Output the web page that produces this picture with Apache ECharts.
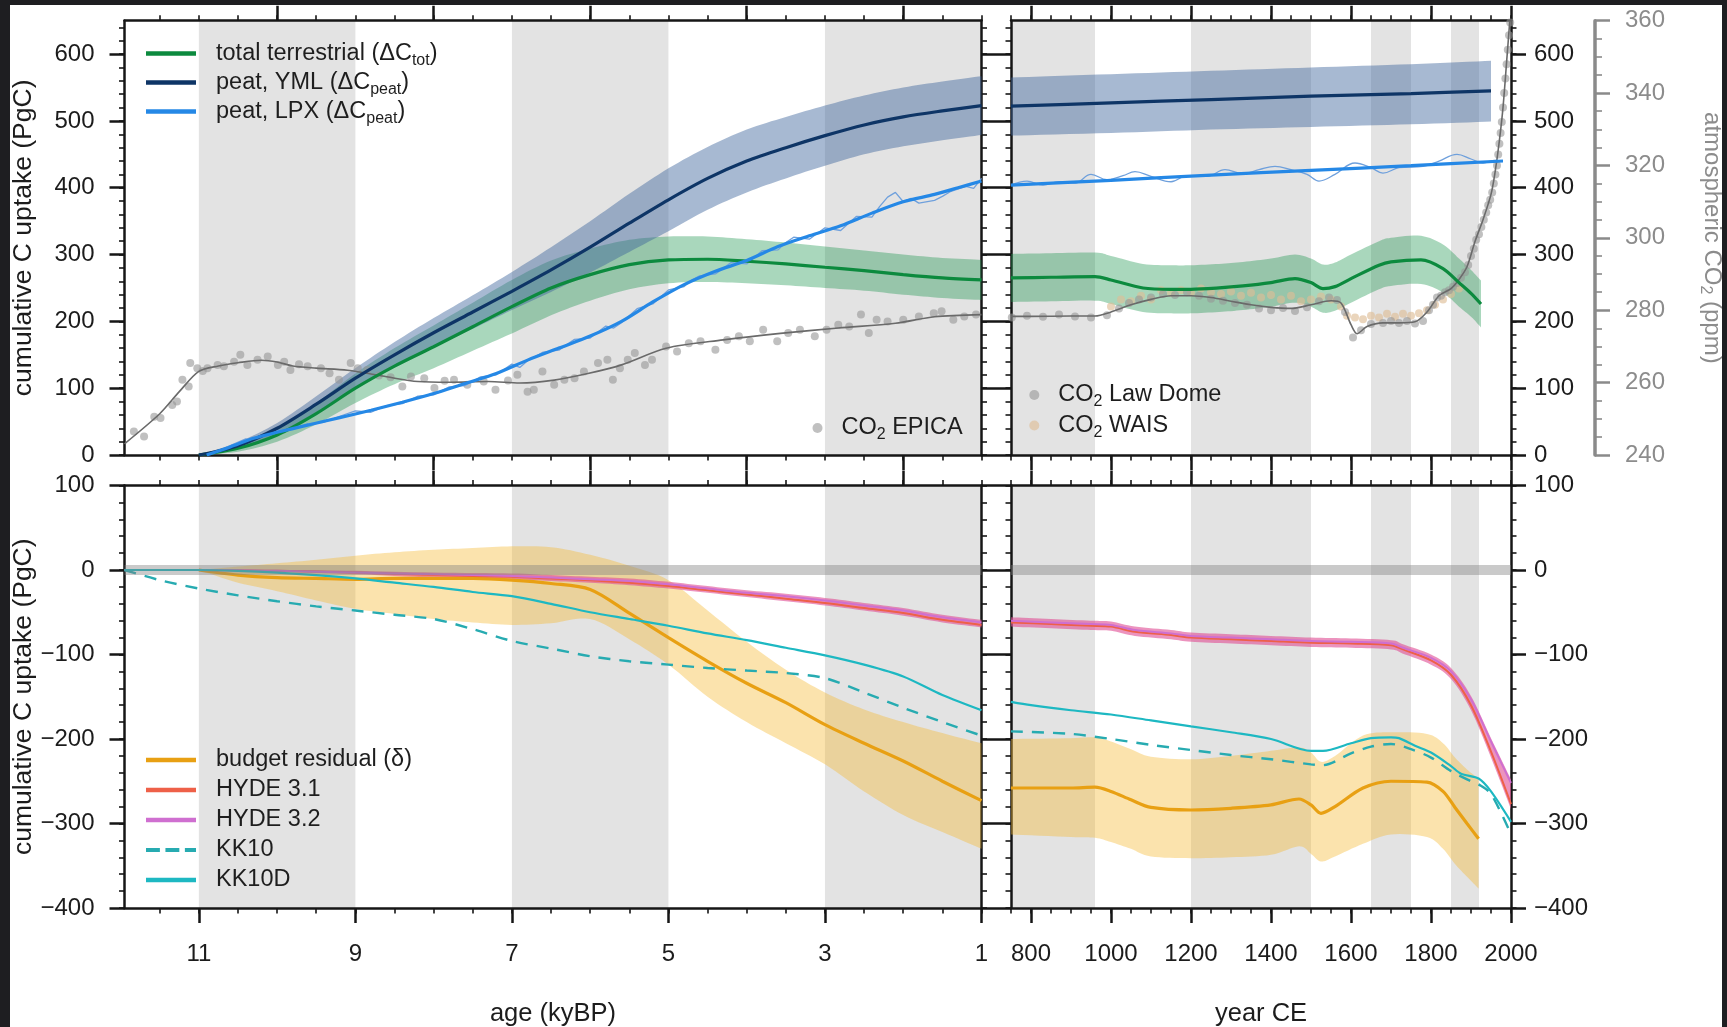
<!DOCTYPE html>
<html><head><meta charset="utf-8">
<script src="https://cdn.jsdelivr.net/npm/echarts@6/dist/echarts.min.js"></script>
<style>
html,body{margin:0;padding:0;background:#1e1e21;width:1727px;height:1027px;overflow:hidden}
#c{position:absolute;left:10px;top:5px;width:1712px;height:1022px;background:#fff}
</style></head><body><div id="c"></div>
<script>
// ---------------- DATA ----------------
const leftShade = [[11,9],[7,5],[3,1]];
const rightShade = [[750,960],[1200,1500],[1650,1750],[1850,1920]];

const AGE_ODD = [1,3,5,7,9,11];
const AGE_EVEN = [2,4,6,8,10];
const AGE_HALF = [1,1.5,2,2.5,3,3.5,4,4.5,5,5.5,6,6.5,7,7.5,8,8.5,9,9.5,10,10.5,11,11.5];
const YEAR_MAJOR = [800,1000,1200,1400,1600,1800,2000];
const YEAR_MINOR = [750,800,850,900,950,1000,1050,1100,1150,1200,1250,1300,1350,1400,1450,1500,1550,1600,1650,1700,1750,1800,1850,1900,1950,2000];
const PG_TOP_MAJOR = [0,100,200,300,400,500,600];
const PG_TOP_MINOR = [0,20,40,60,80,100,120,140,160,180,200,220,240,260,280,300,320,340,360,380,400,420,440,460,480,500,520,540,560,580,600,620,640];
const PG_BOT_MAJOR = [-400,-300,-200,-100,0,100];
const PG_BOT_MINOR = [-400,-380,-360,-340,-320,-300,-280,-260,-240,-220,-200,-180,-160,-140,-120,-100,-80,-60,-40,-20,0,20,40,60,80,100];

// top-left (age kyBP -> PgC)
const totLeft = [[11,0],[10.5,10],[10,30],[9.5,62],[9,100],[8.5,133],[8,162],[7.5,192],[7,222],[6.5,250],[6,270],[5.5,285],[5,292],[4.5,293],[4,290],[3.5,286],[3,281],[2.5,276],[2,270],[1.5,265],[1,262]];
const totLeftHi = [[11,0],[10.5,15],[10,40],[9.5,78],[9,122],[8.5,160],[8,194],[7.5,228],[7,262],[6.5,291],[6,309],[5.5,322],[5,327],[4.5,327],[4,323],[3.5,318],[3,312],[2.5,306],[2,300],[1.5,295],[1,292]];
const totLeftLo = [[11,0],[10.5,5],[10,20],[9.5,46],[9,78],[8.5,106],[8,130],[7.5,156],[7,182],[6.5,209],[6,231],[5.5,248],[5,257],[4.5,259],[4,257],[3.5,254],[3,250],[2.5,246],[2,240],[1.5,235],[1,232]];
const ymlLeft = [[11,0],[10.5,14],[10,40],[9.5,76],[9,115],[8.5,150],[8,183],[7.5,214],[7,245],[6.5,277],[6,311],[5.5,347],[5,382],[4.5,414],[4,440],[3.5,460],[3,478],[2.5,494],[2,506],[1.5,515],[1,523]];
const ymlLeftHi = [[11,0],[10.5,19],[10,48],[9.5,88],[9,130],[8.5,169],[8,205],[7.5,239],[7,274],[6.5,311],[6,350],[5.5,391],[5,429],[4.5,461],[4,487],[3.5,506],[3,523],[2.5,538],[2,550],[1.5,559],[1,567]];
const ymlLeftLo = [[11,0],[10.5,9],[10,32],[9.5,64],[9,100],[8.5,131],[8,161],[7.5,189],[7,217],[6.5,244],[6,273],[5.5,304],[5,335],[4.5,367],[4,393],[3.5,414],[3,433],[2.5,450],[2,462],[1.5,471],[1,479]];
const lpxLeft = [[10.9,0],[10.6,12],[10.3,25],[10,34],[9.6,45],[9.2,56],[8.8,67],[8.4,79],[8,92],[7.6,107],[7.2,122],[6.8,142],[6.4,160],[6,178],[5.6,200],[5.2,229],[4.8,255],[4.4,275],[4,291],[3.6,312],[3.2,328],[2.8,343],[2.4,362],[2,379],[1.6,390],[1.3,400],[1,410]];
const lpxRawLeft = [[10.8,4],[10.6,14],[10.4,24],[10.3,22],[10.2,29],[10,37],[9.8,38],[9.6,47],[9.4,49],[9.2,58],[9,66],[8.8,64],[8.6,74],[8.4,77],[8.2,88],[8,90],[7.8,102],[7.6,104],[7.4,117],[7.2,120],[7,136],[6.9,131],[6.8,141],[6.6,154],[6.4,157],[6.2,173],[6,175],[5.8,193],[5.7,190],[5.6,198],[5.4,219],[5.2,226],[5,247],[4.8,252],[4.7,262],[4.6,268],[4.4,271],[4.2,288],[4,286],[3.8,306],[3.6,307],[3.5,318],[3.4,326],[3.2,323],[3,340],[2.8,336],[2.6,357],[2.4,356],[2.3,372],[2.2,386],[2.1,393],[2,379],[1.9,384],[1.8,377],[1.6,381],[1.5,387],[1.4,394],[1.2,402],[1.1,399],[1,414]];
const epicaLine = [[11.95,243.1],[11.5,251.4],[11.25,257.5],[11,263.1],[10.75,264.6],[10.5,265.5],[10.2,266.2],[10,265.7],[9.8,264.6],[9.5,264.0],[9.1,263.4],[8.6,261.6],[8.2,260.3],[7.8,260.1],[7.3,260.3],[6.9,259.9],[6.46,260.7],[6.03,262.5],[5.6,264.9],[5.03,269.5],[4.3,271.8],[3.57,273.6],[2.83,275.1],[2.1,276.4],[1.6,278.2],[1.0,278.8]];
const epicaDots = [[11.83,246.5],[11.70,245.1],[11.57,250.6],[11.49,250.2],[11.34,253.8],[11.28,254.8],[11.21,260.8],[11.13,258.9],[11.11,265.4],[11.02,264.0],[10.95,263.2],[10.89,264.0],[10.76,264.9],[10.68,264.5],[10.55,265.8],[10.47,267.7],[10.38,264.9],[10.25,266.3],[10.12,267.2],[9.99,264.9],[9.91,265.8],[9.83,263.5],[9.72,265.1],[9.61,264.5],[9.44,264.0],[9.33,262.6],[9.21,260.8],[9.06,265.4],[8.97,264.0],[8.85,263.5],[8.70,262.0],[8.55,261.5],[8.40,258.9],[8.29,261.7],[8.12,261.2],[7.99,258.5],[7.86,260.5],[7.74,260.8],[7.57,259.4],[7.36,260.3],[7.21,258.0],[7.05,260.6],[6.93,262.2],[6.80,257.5],[6.72,258.0],[6.61,263.1],[6.46,259.4],[6.33,260.8],[6.20,261.2],[6.08,263.1],[5.90,265.4],[5.78,266.3],[5.71,260.8],[5.62,264.0],[5.52,266.3],[5.43,268.2],[5.30,264.9],[5.21,266.3],[5.03,270.0],[4.89,268.6],[4.74,270.9],[4.59,271.4],[4.40,269.1],[4.25,271.8],[4.10,272.8],[3.96,271.4],[3.79,274.6],[3.61,271.4],[3.47,273.7],[3.32,274.6],[3.13,272.8],[2.98,274.6],[2.83,276.0],[2.69,275.5],[2.54,278.8],[2.44,273.7],[2.34,277.4],[2.20,276.9],[2.00,277.4],[1.80,278.3],[1.61,279.2],[1.51,279.7],[1.36,277.4],[1.22,278.3],[1.07,278.8]];

// top-right (year CE -> PgC / ppm)
const ymlRight = [[750,522],[1000,527],[1250,532],[1500,537],[1750,541],[1950,545]];
const ymlRightHi = [[750,565],[1000,570],[1250,575],[1500,580],[1750,585],[1950,590]];
const ymlRightLo = [[750,478],[1000,482],[1250,487],[1500,491],[1750,495],[1950,499]];
const lpxRight = [[750,404],[1000,411],[1250,419],[1500,426],[1750,433],[1980,440]];
const lpxRawRight = [[750,404],[790,410],[830,404],[870,409],[910,407],[950,420],[990,412],[1030,418],[1060,424],[1100,417],[1150,409],[1190,418],[1240,417],[1285,427],[1330,421],[1370,427],[1410,432],[1450,427],[1490,420],[1520,410],[1560,420],[1610,437],[1650,430],[1680,422],[1720,430],[1780,432],[1820,440],[1865,450],[1900,443],[1930,437],[1960,441],[1980,440]];
const totRight = [[750,265],[850,266],[960,267],[1000,262],[1080,250],[1150,248],[1200,248],[1270,250],[1330,253],[1400,258],[1460,264],[1500,258],[1530,249],[1560,252],[1600,264],[1670,284],[1700,289],[1775,292],[1830,279],[1870,258],[1900,242],[1925,226]];
const totRightHi = [[750,301],[850,302],[960,303],[1000,298],[1080,286],[1150,284],[1200,284],[1270,286],[1330,289],[1400,294],[1460,300],[1500,294],[1530,285],[1560,288],[1600,300],[1670,320],[1700,325],[1775,328],[1830,315],[1870,294],[1900,277],[1925,261]];
const totRightLo = [[750,229],[850,230],[960,231],[1000,226],[1080,214],[1150,212],[1200,212],[1270,214],[1330,217],[1400,222],[1460,228],[1500,222],[1530,213],[1560,216],[1600,228],[1670,248],[1700,253],[1775,256],[1830,243],[1870,222],[1900,207],[1925,191]];
const lawLine = [[750,278.3],[800,278.3],[900,278.4],[960,278.4],[1000,279.5],[1050,281.5],[1100,283],[1150,284],[1200,284],[1250,283.5],[1300,282.5],[1350,281.5],[1400,280.8],[1450,280.5],[1500,281.5],[1550,282.6],[1575,282],[1600,276],[1615,273.5],[1640,275.5],[1680,276.5],[1720,276.5],[1760,276.8],[1790,279.5],[1820,284],[1850,286],[1870,288.5],[1890,292],[1910,299],[1930,305],[1950,312],[1960,318],[1970,326],[1980,336],[1990,350],[1997,360]];
const lawDots = [[752,278],[790,278.5],[830,278.2],[870,278.8],[910,278.3],[950,278],[990,278.6],[1020,280.5],[1045,282],[1070,283],[1100,283.5],[1130,284.5],[1160,284.2],[1190,285],[1220,284],[1250,283.2],[1280,282.6],[1310,282],[1340,281.5],[1370,280.5],[1400,280],[1430,280.6],[1460,279.8],[1490,280.8],[1520,282.5],[1545,283.5],[1565,282.8],[1585,279.5],[1605,272.5],[1625,274.5],[1650,276.2],[1680,276.5],[1700,277],[1720,276.5],[1740,277],[1760,276.3],[1780,277],[1795,280],[1805,281.5],[1815,283.5],[1825,284],[1835,285],[1845,285.5],[1855,286.5],[1865,287.5],[1875,289],[1885,290.5],[1893,292.5],[1900,295],[1907,297],[1913,299.5],[1920,301],[1926,303],[1932,305],[1938,307],[1943,309],[1948,310.5],[1953,312.5],[1957,315],[1961,317.5],[1965,320],[1968,323],[1971,326],[1974,329],[1977,332],[1980,336],[1983,340],[1986,344],[1989,348],[1992,352],[1995,356],[1998,359.5]];
const waisDots = [[1000,281],[1025,283],[1050,282.5],[1075,284],[1100,283],[1125,285.5],[1150,284.8],[1175,285.5],[1200,285],[1225,286],[1250,285],[1275,284.5],[1300,285.2],[1325,284],[1350,284.8],[1375,283.5],[1400,284.2],[1425,283],[1450,284],[1475,282.5],[1500,283],[1525,283.8],[1550,283],[1575,281],[1590,278.5],[1610,278],[1630,277.5],[1650,278.5],[1670,278],[1690,279],[1710,278.2],[1730,279],[1750,278.5],[1770,279.2],[1790,280],[1810,281.5],[1830,283],[1850,284.5],[1870,286]];

// bottom-left (age kyBP -> PgC)
const budgetLeft = [[11,0],[10.5,-6],[10,-9],[9.5,-10],[9,-11],[8.5,-10],[8,-10],[7.5,-10],[7,-12],[6.5,-16],[6,-23],[5.5,-51],[5,-80],[4.5,-108],[4,-134],[3.5,-157],[3,-183],[2.5,-205],[2,-226],[1.5,-250],[1,-273]];
const budgetLeftHi = [[11,0],[10.5,4],[10,8],[9.5,12],[9,17],[8.5,21],[8,24],[7.5,26],[7,28],[6.5,27],[6,18],[5.5,5],[5,-12],[4.5,-48],[4,-85],[3.5,-118],[3,-145],[2.5,-165],[2,-180],[1.5,-193],[1,-205]];
const budgetLeftLo = [[11,0],[10.5,-15],[10,-25],[9.5,-36],[9,-46],[8.5,-52],[8,-58],[7.5,-62],[7,-65],[6.5,-63],[6,-58],[5.5,-82],[5,-112],[4.5,-150],[4,-180],[3.5,-205],[3,-230],[2.5,-262],[2,-290],[1.5,-310],[1,-330]];
const hyde32Left = [[11.95,0],[11,0],[10,-1],[9,-3],[8,-5],[7,-7],[6.5,-9],[6,-11],[5.5,-13],[5,-17],[4.5,-22],[4,-27],[3.5,-31],[3,-36],[2.5,-42],[2,-48],[1.5,-56],[1,-62]];
const hyde31Left = [[11.95,0],[11,0],[10,-1],[9,-3],[8,-6],[7,-8],[6.5,-10],[6,-12],[5.5,-15],[5,-19],[4.5,-24],[4,-29],[3.5,-34],[3,-39],[2.5,-45],[2,-51],[1.5,-59],[1,-65]];
const hydeLeftHi = [[11.95,0],[11,0],[10,0],[9,-1],[8,-3],[7,-4],[6.5,-6],[6,-8],[5.5,-10],[5,-14],[4.5,-19],[4,-24],[3.5,-28],[3,-33],[2.5,-39],[2,-45],[1.5,-53],[1,-59]];
const hydeLeftLo = [[11.95,0],[11,0],[10,-2],[9,-5],[8,-9],[7,-11],[6.5,-13],[6,-15],[5.5,-18],[5,-22],[4.5,-27],[4,-32],[3.5,-37],[3,-42],[2.5,-48],[2,-54],[1.5,-62],[1,-68]];
const kk10Left = [[11.95,0],[11.5,-12],[11,-22],[10.5,-30],[10,-37],[9.5,-43],[9,-48],[8.5,-53],[8,-58],[7.5,-70],[7,-84],[6.5,-93],[6,-102],[5.5,-108],[5,-112],[4.5,-116],[4,-119],[3.5,-122],[3,-128],[2.5,-145],[2,-163],[1.5,-180],[1,-196]];
const kk10dLeft = [[11.95,0],[11,0],[10.5,-1],[10,-3],[9.5,-6],[9,-10],[8.5,-15],[8,-20],[7.5,-26],[7,-31],[6.5,-40],[6,-50],[5.5,-58],[5,-66],[4.5,-75],[4,-83],[3.5,-92],[3,-101],[2.5,-112],[2,-126],[1.5,-148],[1,-166]];

// bottom-right (year CE -> PgC)
const budgetRight = [[750,-258],[900,-258],[960,-257],[1000,-262],[1050,-272],[1100,-281],[1200,-284],[1300,-282],[1400,-278],[1470,-271],[1500,-278],[1525,-288],[1560,-280],[1630,-258],[1700,-250],[1790,-251],[1830,-262],[1860,-281],[1890,-300],[1919,-318]];
const budgetRightHi = [[750,-200],[900,-199],[960,-198],[1000,-203],[1050,-212],[1100,-221],[1200,-224],[1300,-220],[1400,-214],[1470,-210],[1500,-216],[1525,-227],[1560,-220],[1630,-196],[1700,-192],[1790,-194],[1830,-205],[1860,-222],[1890,-236],[1919,-247]];
const budgetRightLo = [[750,-313],[900,-316],[960,-317],[1000,-322],[1050,-330],[1100,-339],[1200,-341],[1300,-340],[1400,-337],[1470,-327],[1500,-336],[1525,-345],[1560,-339],[1630,-324],[1700,-313],[1790,-316],[1830,-330],[1860,-348],[1890,-363],[1919,-377]];
const hyde32Right = [[750,-60],[850,-62],[950,-64],[1000,-65],[1060,-71],[1150,-75],[1200,-78],[1300,-80],[1400,-82],[1500,-84],[1600,-85],[1700,-87],[1730,-92],[1800,-104],[1850,-120],[1900,-153],[1950,-203],[2000,-252]];
const hyde31Right = [[750,-62],[850,-64],[950,-66],[1000,-67],[1060,-73],[1150,-77],[1200,-80],[1300,-82],[1400,-84],[1500,-86],[1600,-87],[1700,-89],[1730,-94],[1800,-107],[1850,-124],[1900,-160],[1950,-215],[2000,-277]];
const hydeRightHi = [[750,-56],[850,-58],[950,-60],[1000,-61],[1060,-67],[1150,-71],[1200,-74],[1300,-76],[1400,-78],[1500,-80],[1600,-81],[1700,-83],[1730,-88],[1800,-100],[1850,-116],[1900,-149],[1950,-199],[2000,-248]];
const hydeRightLo = [[750,-67],[850,-69],[950,-71],[1000,-72],[1060,-78],[1150,-82],[1200,-85],[1300,-87],[1400,-89],[1500,-91],[1600,-92],[1700,-94],[1730,-99],[1800,-112],[1850,-129],[1900,-166],[1950,-222],[2000,-283]];
const kk10dRight = [[750,-156],[800,-160],[900,-166],[1000,-171],[1100,-178],[1200,-185],[1300,-192],[1400,-200],[1500,-214],[1530,-214],[1600,-205],[1650,-199],[1700,-198],[1720,-199],[1760,-208],[1800,-216],[1850,-232],[1875,-241],[1920,-247],[1950,-262],[2000,-298]];
const kk10Right = [[750,-191],[900,-194],[1000,-200],[1100,-207],[1200,-213],[1300,-219],[1400,-224],[1500,-230],[1530,-231],[1600,-217],[1650,-209],[1700,-206],[1750,-212],[1800,-222],[1850,-238],[1900,-250],[1920,-254],[1950,-265],[2000,-313]];

// ---------------- STYLE ----------------
const FONT = '"Liberation Sans", Arial, Helvetica, sans-serif';
const INK = '#161616';
const GRAYAX = '#8a8a8a';
const C = {
  green:'#0c8a3e', greenBand:'rgba(30,150,80,0.38)',
  navy:'#0e3566', navyBand:'rgba(60,100,155,0.45)',
  blue:'#2588e6', blueRaw:'#6fa0dc',
  orange:'#e8a013', orangeBand:'rgba(245,185,50,0.40)',
  h31:'#ee6048', h32:'#cf6fd0', hydeBand:'rgba(225,80,150,0.62)',
  kk10:'#27abb1', kk10d:'#1db8c2',
  dot:'rgba(150,150,150,0.75)', wais:'rgba(222,190,150,0.8)', co2line:'#6a6a6a',
  shade:'#e3e3e3'
};
const AGE = [1, 11.95, true], YEAR = [750, 2000, false], PGT = [0, 650], PGB = [-400, 100];
const fmtNum = v => (v < 0 ? '\u2212' + Math.abs(v) : String(v));

const R = {
  TL:{left:114.5, top:15.7, width:857, height:434.3},
  TR:{left:1001, top:15.7, width:500, height:434.3},
  BL:{left:114.5, top:480.5, width:857, height:422.5},
  BR:{left:1001, top:480.5, width:500, height:422.5}
};
const grids = [R.TL,R.TR,R.BL,R.BR,R.TL,R.TR,R.BL,R.BR,R.TR,R.TL].map(r => Object.assign({containLabel:false, outerBoundsMode:'none'}, r));

function majorAxis(gi, pos, range, ticks, labels, margin, extra) {
  return Object.assign({
    type:'value', gridIndex:gi, position:pos, min:range[0], max:range[1], inverse:!!range[2],
    splitLine:{show:false},
    axisLine:{show:true, onZero:false, lineStyle:{color:INK, width:2.5}},
    axisTick:{show:true, inside:false, length:15, lineStyle:{color:INK, width:2.5}, customValues:ticks},
    axisLabel: labels ? {show:true, customValues:labels, formatter:fmtNum, fontSize:24, fontFamily:FONT, color:'#1c1c1c', margin:margin} : {show:false}
  }, extra || {});
}
function minorAxis(gi, pos, range, ticks) {
  return {
    type:'value', gridIndex:gi, position:pos, min:range[0], max:range[1], inverse:!!range[2],
    splitLine:{show:false}, axisLine:{show:false, onZero:false},
    axisTick:{show:true, inside:false, length:5.5, lineStyle:{color:INK, width:1.6}, customValues:ticks},
    axisLabel:{show:false}
  };
}
function hiddenAxis(gi, range) {
  return {type:'value', gridIndex:gi, min:range[0], max:range[1], inverse:!!range[2], show:false,
    splitLine:{show:false}, axisLine:{onZero:false}};
}
const nameStyle = {fontSize:25.5, fontFamily:FONT, color:'#1c1c1c'};
const yNameStyle = {fontSize:26.5, fontFamily:FONT, color:'#1c1c1c'};
const yName = {name:'cumulative C uptake (PgC)', nameLocation:'middle', nameGap:87, nameRotate:90, nameMoveOverlap:false, nameTextStyle:yNameStyle};

const xAxis = [
  majorAxis(0,'bottom',AGE,AGE_EVEN,null),
  majorAxis(0,'top',AGE,AGE_EVEN,null),
  majorAxis(1,'bottom',YEAR,YEAR_MAJOR,null),
  majorAxis(1,'top',YEAR,YEAR_MAJOR,null),
  majorAxis(2,'bottom',AGE,AGE_ODD,AGE_ODD,34,{name:'age (kyBP)', nameLocation:'middle', nameGap:93, nameMoveOverlap:false, nameTextStyle:nameStyle}),
  majorAxis(2,'top',AGE,AGE_EVEN,null),
  majorAxis(3,'bottom',YEAR,YEAR_MAJOR,YEAR_MAJOR,34,{name:'year CE', nameLocation:'middle', nameGap:93, nameMoveOverlap:false, nameTextStyle:nameStyle}),
  majorAxis(3,'top',YEAR,YEAR_MAJOR,null),
  minorAxis(4,'bottom',AGE,AGE_HALF),
  minorAxis(4,'top',AGE,AGE_HALF),
  minorAxis(5,'bottom',YEAR,YEAR_MINOR),
  minorAxis(5,'top',YEAR,YEAR_MINOR),
  minorAxis(6,'bottom',AGE,AGE_HALF),
  minorAxis(6,'top',AGE,AGE_HALF),
  minorAxis(7,'bottom',YEAR,YEAR_MINOR),
  minorAxis(7,'top',YEAR,YEAR_MINOR),
  hiddenAxis(8, YEAR),
  hiddenAxis(9, AGE)
];
const yAxis = [
  majorAxis(0,'left',PGT,PG_TOP_MAJOR,PG_TOP_MAJOR,30,yName),
  majorAxis(0,'right',PGT,PG_TOP_MAJOR,null),
  majorAxis(1,'left',PGT,PG_TOP_MAJOR,null),
  majorAxis(1,'right',PGT,PG_TOP_MAJOR,PG_TOP_MAJOR,23),
  majorAxis(2,'left',PGB,PG_BOT_MAJOR,PG_BOT_MAJOR,30,yName),
  majorAxis(2,'right',PGB,PG_BOT_MAJOR,null),
  majorAxis(3,'left',PGB,PG_BOT_MAJOR,null),
  majorAxis(3,'right',PGB,PG_BOT_MAJOR,PG_BOT_MAJOR,23),
  minorAxis(4,'left',PGT,PG_TOP_MINOR),
  minorAxis(4,'right',PGT,PG_TOP_MINOR),
  minorAxis(5,'left',PGT,PG_TOP_MINOR),
  minorAxis(5,'right',PGT,PG_TOP_MINOR),
  minorAxis(6,'left',PGB,PG_BOT_MINOR),
  minorAxis(6,'right',PGB,PG_BOT_MINOR),
  minorAxis(7,'left',PGB,PG_BOT_MINOR),
  minorAxis(7,'right',PGB,PG_BOT_MINOR),
  {
    type:'value', gridIndex:8, position:'right', offset:84, min:240, max:360, interval:20,
    splitLine:{show:false},
    axisLine:{show:true, onZero:false, lineStyle:{color:GRAYAX, width:3.5}},
    axisTick:{show:true, inside:false, length:15, lineStyle:{color:GRAYAX, width:2.5}},
    minorTick:{show:true, splitNumber:4, length:7, lineStyle:{color:GRAYAX, width:1.6}},
    axisLabel:{show:true, fontSize:24, fontFamily:FONT, color:'#8c8c8c', margin:30},
    name:'atmospheric CO{s|2} (ppm)', nameLocation:'middle', nameGap:104, nameRotate:-90, nameMoveOverlap:false,
    nameTextStyle:{fontSize:24, fontFamily:FONT, color:'#8c8c8c', lineHeight:26,
      rich:{s:{fontSize:16, fontFamily:FONT, color:'#8c8c8c', lineHeight:12, padding:[14,0,0,0]}}}
  },
  hiddenAxis(9, [240, 360])
];

// ---------------- SERIES ----------------
// pixel-space Catmull-Rom sampling used only to draw smooth band outlines
function spline(pts, seg) {
  const out = [];
  const n = pts.length;
  for (let i = 0; i < n - 1; i++) {
    const p0 = pts[Math.max(i - 1, 0)], p1 = pts[i], p2 = pts[i + 1], p3 = pts[Math.min(i + 2, n - 1)];
    for (let k = 0; k < seg; k++) {
      const t = k / seg, t2 = t * t, t3 = t2 * t;
      out.push([0, 1].map(d => 0.5 * ((2 * p1[d]) + (-p0[d] + p2[d]) * t + (2 * p0[d] - 5 * p1[d] + 4 * p2[d] - p3[d]) * t2 + (-p0[d] + 3 * p1[d] - 3 * p2[d] + p3[d]) * t3)));
    }
  }
  out.push(pts[n - 1]);
  return out;
}
function band(xi, yi, lo, hi, color) {
  return {type:'custom', xAxisIndex:xi, yAxisIndex:yi, data:[lo[0]], encode:{x:0, y:1}, silent:true, z:1,
    renderItem: function (params, api) {
      const up = spline(hi.map(p => api.coord(p)), 8);
      const dn = spline(lo.map(p => api.coord(p)), 8).reverse();
      return {type:'polygon', shape:{points:up.concat(dn)}, style:{fill:color}};
    }};
}
function shade(xi, yi, data) {
  return {type:'custom', xAxisIndex:xi, yAxisIndex:yi, data:data, encode:{x:[0,1]}, z:0, silent:true,
    renderItem: function (params, api) {
      const cs = params.coordSys;
      const a = api.coord([api.value(0), 0])[0];
      const b = api.coord([api.value(1), 0])[0];
      return {type:'rect', shape:{x:Math.min(a,b), y:cs.y, width:Math.abs(b-a), height:cs.height}, style:{fill:C.shade}};
    }};
}
function line(name, xi, yi, data, color, width, extra) {
  return Object.assign({type:'line', name:name, xAxisIndex:xi, yAxisIndex:yi, data:data, symbol:'none', smooth:0.3,
    lineStyle:{color:color, width:width}, itemStyle:{color:color}, silent:true, z:3}, extra || {});
}
function dots(name, xi, yi, data, color, size) {
  return {type:'scatter', name:name, xAxisIndex:xi, yAxisIndex:yi, data:data, symbolSize:size, itemStyle:{color:color}, silent:true, z:2};
}
function zeroRef(xi, yi, anchor) {
  return {type:'line', name:'zero ref', xAxisIndex:xi, yAxisIndex:yi, data:[anchor], symbol:'none',
    lineStyle:{opacity:0}, silent:true, z:2,
    markLine:{silent:true, symbol:'none', label:{show:false}, data:[{yAxis:0}],
      lineStyle:{color:'rgba(128,128,128,0.42)', width:10, type:'solid'}}};
}

const series = [];
series.push(shade(0,0,leftShade), shade(2,2,rightShade), shade(4,4,leftShade), shade(6,6,rightShade));

// top-left
series.push(band(0,0,totLeftLo,totLeftHi,C.greenBand));
series.push(band(0,0,ymlLeftLo,ymlLeftHi,C.navyBand));
series.push(dots('CO2 EPICA',17,17,epicaDots,C.dot,8));
series.push(line('epica line',17,17,epicaLine,C.co2line,1.6,{z:2.5}));
series.push(line('lpx raw L',0,0,lpxRawLeft,C.blueRaw,1.3,{smooth:false, z:2.6}));
series.push(line('total terrestrial',0,0,totLeft,C.green,3.2));
series.push(line('peat, YML',0,0,ymlLeft,C.navy,3.2));
series.push(line('peat, LPX',0,0,lpxLeft,C.blue,3.2));

// top-right
series.push(band(2,2,totRightLo,totRightHi,C.greenBand));
series.push(band(2,2,ymlRightLo,ymlRightHi,C.navyBand));
series.push(dots('CO2 WAIS',16,16,waisDots,C.wais,8));
series.push(dots('CO2 Law Dome',16,16,lawDots,C.dot,8));
series.push(line('law line',16,16,lawLine,C.co2line,1.6,{z:2.5}));
series.push(line('lpx raw R',2,2,lpxRawRight,C.blueRaw,1.3,{smooth:0.4, z:2.6}));
series.push(line('total terrestrial',2,2,totRight,C.green,3.2));
series.push(line('peat, YML',2,2,ymlRight,C.navy,3.2));
series.push(line('peat, LPX',2,2,lpxRight,C.blue,3.2));

// bottom-left
series.push(band(4,4,budgetLeftLo,budgetLeftHi,C.orangeBand));
series.push(band(4,4,hydeLeftLo,hydeLeftHi,C.hydeBand));
series.push(zeroRef(4,4,[1,0]));
series.push(line('budget residual',4,4,budgetLeft,C.orange,3.2));
series.push(line('HYDE 3.1',4,4,hyde31Left,C.h31,2));
series.push(line('HYDE 3.2',4,4,hyde32Left,C.h32,2));
series.push(line('KK10',4,4,kk10Left,C.kk10,2.4,{lineStyle:{color:C.kk10, width:2.4, type:[12,9]}}));
series.push(line('KK10D',4,4,kk10dLeft,C.kk10d,2.2));

// bottom-right
series.push(band(6,6,budgetRightLo,budgetRightHi,C.orangeBand));
series.push(band(6,6,hydeRightLo,hydeRightHi,C.hydeBand));
series.push(zeroRef(6,6,[2000,0]));
series.push(line('budget residual',6,6,budgetRight,C.orange,3.2));
series.push(line('HYDE 3.1',6,6,hyde31Right,C.h31,2));
series.push(line('HYDE 3.2',6,6,hyde32Right,C.h32,2));
series.push(line('KK10',6,6,kk10Right,C.kk10,2.4,{lineStyle:{color:C.kk10, width:2.4, type:[12,9]}}));
series.push(line('KK10D',6,6,kk10dRight,C.kk10d,2.2));

// ---------------- LEGENDS ----------------
const LABEL = {
  'total terrestrial':'total terrestrial (\u0394C{s|tot})',
  'peat, YML':'peat, YML (\u0394C{s|peat})',
  'peat, LPX':'peat, LPX (\u0394C{s|peat})',
  'CO2 EPICA':'CO{s|2} EPICA',
  'CO2 Law Dome':'CO{s|2} Law Dome',
  'CO2 WAIS':'CO{s|2} WAIS',
  'budget residual':'budget residual (\u03b4)'
};
const legText = {fontSize:23.5, fontFamily:FONT, color:'#1e1e1e', lineHeight:26, padding:[0,0,0,15],
  rich:{s:{fontSize:16, fontFamily:FONT, color:'#1e1e1e', lineHeight:12, padding:[14,0,0,0]}}};
const legBase = {orient:'vertical', selectedMode:false, itemGap:4, formatter: n => LABEL[n] || n, textStyle:legText};
const DASH_ICON = 'path://M0,0H10V3H0ZM14,0H24V3H14ZM28,0H36V3H28Z';
const legend = [
  Object.assign({}, legBase, {left:131, top:28.5, itemGap:-1, itemWidth:50, itemHeight:4.5, icon:'rect',
    data:['total terrestrial','peat, YML','peat, LPX']}),
  Object.assign({}, legBase, {left:797.5, top:403, itemWidth:10, itemHeight:10, icon:'circle',
    textStyle:Object.assign({}, legText, {padding:[0,0,0,14]}), data:['CO2 EPICA']}),
  Object.assign({}, legBase, {left:1014.3, top:370, itemGap:0.5, itemWidth:10, itemHeight:10, icon:'circle',
    textStyle:Object.assign({}, legText, {padding:[0,0,0,14]}), data:['CO2 Law Dome','CO2 WAIS']}),
  Object.assign({}, legBase, {left:131, top:737, itemWidth:50, itemHeight:4.5,
    data:[{name:'budget residual', icon:'rect'},{name:'HYDE 3.1', icon:'rect'},{name:'HYDE 3.2', icon:'rect'},{name:'KK10', icon:DASH_ICON},{name:'KK10D', icon:'rect'}]})
];

const chart = echarts.init(document.getElementById('c'), null, {renderer:'canvas'});
chart.setOption({
  animation:false,
  backgroundColor:'#ffffff',
  textStyle:{fontFamily:FONT},
  grid:grids, xAxis:xAxis, yAxis:yAxis, legend:legend, series:series
});
</script></body></html>
